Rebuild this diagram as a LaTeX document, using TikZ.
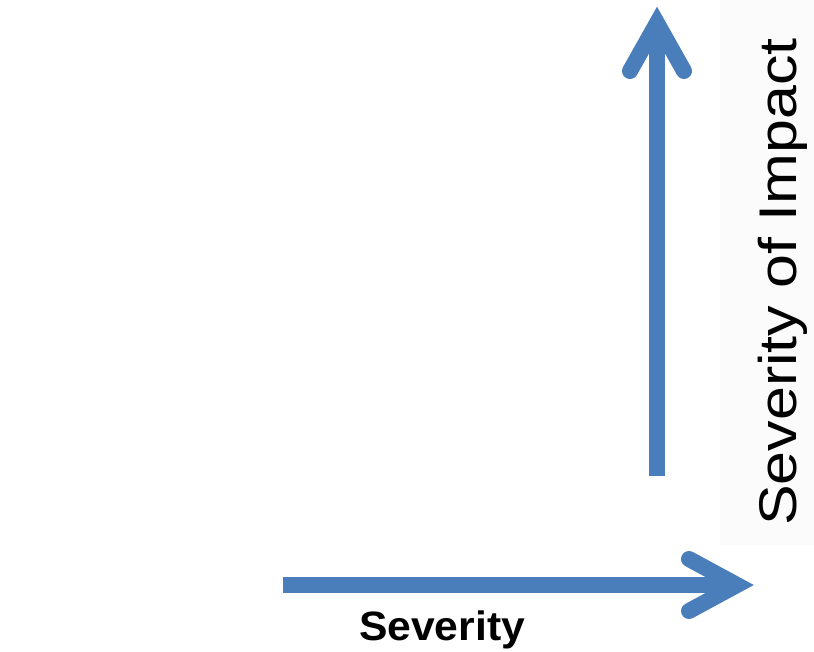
\documentclass[tikz,border=0pt]{standalone}
\usepackage{fontspec}
\setmainfont{Liberation Sans}
\definecolor{arrowblue}{RGB}{74,126,187}
\begin{document}
\begin{tikzpicture}[x=1pt,y=-1pt,
  shaft/.style={draw=arrowblue,line width=16pt,line cap=butt},
  barb/.style={draw=arrowblue,line width=16pt,line cap=round,line join=miter},
  lbl/.style={inner sep=0pt,text=black}]
\useasboundingbox (0,0) rectangle (814,652);
\fill[black!1.5] (720,0) rectangle (814,545);
% vertical arrow
\coordinate (vbot) at (657,476);
\coordinate (vtip) at (657,23);
\coordinate (vwl) at (630,71);
\coordinate (vwr) at (684,71);
\draw[shaft] (vbot) -- (vtip);
\draw[barb] (vwl) -- (vtip) -- (vwr);
% horizontal arrow
\coordinate (hleft) at (283,585);
\coordinate (htip) at (737,585);
\coordinate (hwt) at (689,559);
\coordinate (hwb) at (689,611);
\draw[shaft] (hleft) -- (htip);
\draw[barb] (hwt) -- (htip) -- (hwb);
% labels
\node[lbl,anchor=base] (sev) at (442,640) {\fontsize{41}{45}\selectfont\bfseries\scalebox{1.04}[1]{Severity}};
\node[lbl,anchor=base,rotate=90] (imp) at (796,282) {\fontsize{53}{58}\selectfont\scalebox{1.15}[1]{Severity of Impact}};
\end{tikzpicture}
\end{document}
